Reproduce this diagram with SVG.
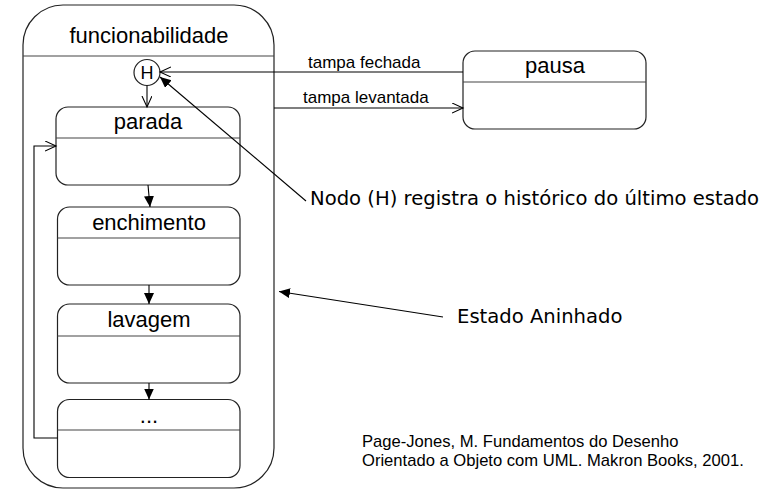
<svg xmlns="http://www.w3.org/2000/svg" width="781" height="490" viewBox="0 0 781 490">
<style>
.box{fill:#fff;stroke:#222;stroke-width:1.2}
.div{stroke:#444;stroke-width:1.2}
.lbl{font-family:"Liberation Sans",Arial,sans-serif;font-size:22px;fill:#000;text-anchor:middle}
.ev{font-family:"Liberation Sans",Arial,sans-serif;font-size:17px;fill:#000}
.note{font-family:"DejaVu Sans",Verdana,sans-serif;font-size:19.6px;fill:#000}
.ref{font-family:"Liberation Sans",Arial,sans-serif;font-size:16.6px;fill:#000}
.c{fill:none;stroke:#000;stroke-width:1.1}
</style>
<defs>
<marker id="open" markerUnits="userSpaceOnUse" markerWidth="14" markerHeight="12" refX="11" refY="5" orient="auto">
<path d="M0,0 L11,5 L0,10" fill="none" stroke="#000" stroke-width="1.1"/>
</marker>
<marker id="fill" markerUnits="userSpaceOnUse" markerWidth="14" markerHeight="12" refX="11" refY="5" orient="auto">
<path d="M0,0 L11,5 L0,10 Z" fill="#000"/>
</marker>
</defs>
<g id="funcionabilidade">
<rect class="box" x="23" y="5" width="251" height="483" rx="40" ry="40"/>
<line class="div" x1="23" y1="56" x2="274" y2="56"/>
<text class="lbl" x="149" y="43">funcionabilidade</text>
</g>
<g id="history">
<circle class="box" cx="147" cy="72.5" r="13"/>
<text class="lbl" x="147" y="79" style="font-size:18px">H</text>
</g>
<g id="parada">
<rect class="box" x="56" y="107" width="184" height="78" rx="12" ry="12"/>
<line class="div" x1="56" y1="138" x2="240" y2="138"/>
<text class="lbl" x="148" y="129">parada</text>
</g>
<g id="enchimento">
<rect class="box" x="57.5" y="207" width="182.5" height="78" rx="12" ry="12"/>
<line class="div" x1="57.5" y1="238" x2="240" y2="238"/>
<text class="lbl" x="149" y="230">enchimento</text>
</g>
<g id="lavagem">
<rect class="box" x="57.5" y="304" width="182.5" height="79" rx="12" ry="12"/>
<line class="div" x1="57.5" y1="336" x2="240" y2="336"/>
<text class="lbl" x="149" y="327">lavagem</text>
</g>
<g id="reticencias">
<rect class="box" x="57.5" y="399.5" width="182.5" height="78" rx="12" ry="12"/>
<line class="div" x1="57.5" y1="430" x2="240" y2="430"/>
<text class="lbl" x="149" y="423">...</text>
</g>
<g id="pausa">
<rect class="box" x="463" y="51" width="183" height="78" rx="12" ry="12"/>
<line class="div" x1="463" y1="82" x2="646" y2="82"/>
<text class="lbl" x="555" y="73">pausa</text>
</g>
<g id="connectors">
<line class="c" x1="147" y1="85.5" x2="147" y2="107" marker-end="url(#open)"/>
<line class="c" x1="148" y1="185" x2="150" y2="207" marker-end="url(#fill)"/>
<line class="c" x1="149" y1="285" x2="149" y2="304" marker-end="url(#fill)"/>
<line class="c" x1="149" y1="383" x2="149" y2="399.5" marker-end="url(#fill)"/>
<path class="c" d="M57.5,438 H34 V146 H56" marker-end="url(#open)"/>
<line class="c" x1="463" y1="72" x2="160" y2="72" marker-end="url(#open)"/>
<text class="ev" x="308" y="67.5">tampa fechada</text>
<line class="c" x1="274" y1="108" x2="463" y2="108" marker-end="url(#open)"/>
<text class="ev" x="303" y="103">tampa levantada</text>
<line class="c" x1="306" y1="201" x2="160" y2="77" marker-end="url(#fill)"/>
<line class="c" x1="443" y1="317" x2="279" y2="291.5" marker-end="url(#fill)"/>
</g>
<g id="notes">
<text class="note" x="310" y="205">Nodo (H) registra o histórico do último estado</text>
<text class="note" x="457" y="323">Estado Aninhado</text>
<text class="ref" x="362" y="447">Page-Jones, M. Fundamentos do Desenho</text>
<text class="ref" x="362" y="465.5">Orientado a Objeto com UML. Makron Books, 2001.</text>
</g>
</svg>
